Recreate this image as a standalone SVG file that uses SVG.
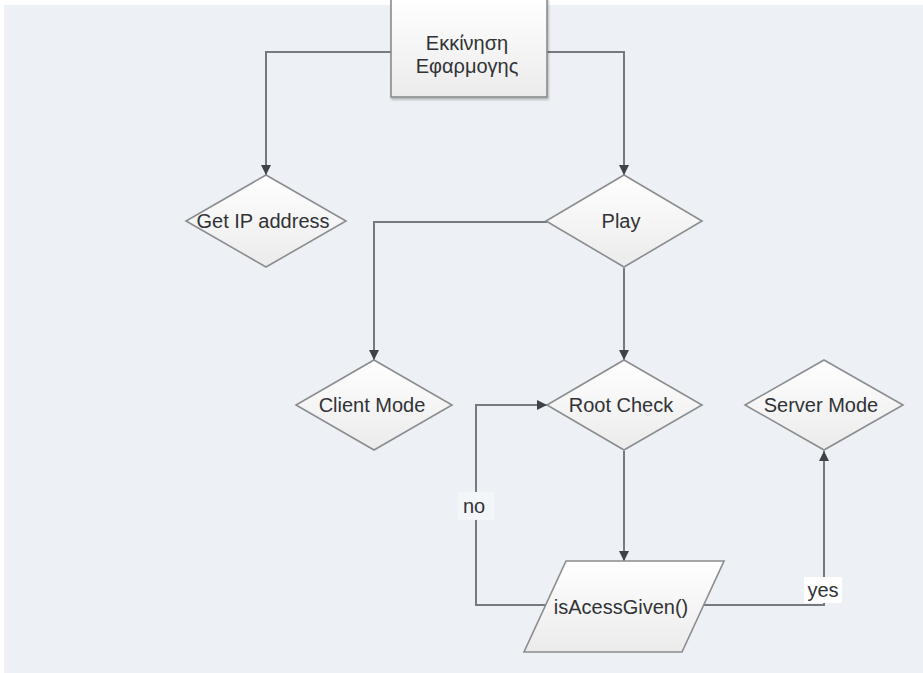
<svg xmlns="http://www.w3.org/2000/svg" width="923" height="673" viewBox="0 0 923 673">
  <defs>
    <linearGradient id="shapeFill" x1="0" y1="0" x2="0" y2="1">
      <stop offset="0" stop-color="#ffffff"/>
      <stop offset="1" stop-color="#ebebeb"/>
    </linearGradient>
    <filter id="shadow" x="-10%" y="-10%" width="130%" height="130%">
      <feDropShadow dx="1" dy="2" stdDeviation="1.2" flood-color="#000" flood-opacity="0.25"/>
    </filter>
    <marker id="arrow" viewBox="0 0 10 10" refX="10" refY="5" markerWidth="10" markerHeight="10" markerUnits="userSpaceOnUse" orient="auto">
      <path d="M0,0 L10,5 L0,10 z" fill="#3f4246"/>
    </marker>
  </defs>
  <style>
    .shape { fill: url(#shapeFill); stroke: #8a8c8f; stroke-width: 1.6; }
    .label { font-family: "Liberation Sans", Arial, "Noto Sans", sans-serif; font-size: 20px; fill: #313235; text-anchor: middle; dominant-baseline: central; }
    .edge { fill: none; stroke: #76797d; stroke-width: 2; }
    .tag { font-family: "Liberation Sans", Arial, sans-serif; font-size: 20px; fill: #313235; text-anchor: middle; dominant-baseline: central; }
  </style>

  <!-- canvas -->
  <rect x="0" y="0" width="923" height="673" fill="#ffffff"/>
  <rect x="4" y="5" width="919" height="668" fill="#edf1f5"/>

  <!-- connectors -->
  <g id="connectors">
    <polyline class="edge" points="391,52 266,52 266,175" marker-end="url(#arrow)"/>
    <polyline class="edge" points="547,52 624,52 624,175" marker-end="url(#arrow)"/>
    <polyline class="edge" points="547,222 374,222 374,360" marker-end="url(#arrow)"/>
    <polyline class="edge" points="624,268 624,360" marker-end="url(#arrow)"/>
    <polyline class="edge" points="624,451 624,561" marker-end="url(#arrow)"/>
    <polyline class="edge" points="545,605 476,605 476,405 547,405" marker-end="url(#arrow)"/>
    <polyline class="edge" points="703,605 824,605 824,451" marker-end="url(#arrow)"/>
    <g id="label-no">
      <rect x="458" y="492" width="36" height="28" fill="#f3f6f9"/>
      <text class="tag" x="474" y="506">no</text>
    </g>
    <g id="label-yes">
      <rect x="804" y="577" width="38" height="26" fill="#ffffff"/>
      <text class="tag" x="823" y="590">yes</text>
    </g>
  </g>

  <!-- nodes -->
  <g id="start">
    <rect class="shape" x="391" y="-2" width="156" height="99" filter="url(#shadow)"/>
    <text class="label" x="467" y="43">Εκκίνηση</text>
    <text class="label" x="467" y="66">Εφαρμογης</text>
  </g>

  <g id="get-ip">
    <polygon class="shape" points="266,175 346,221 266,267 186,221"/>
    <text class="label" x="263" y="221">Get IP address</text>
  </g>

  <g id="play">
    <polygon class="shape" points="624,175 702,221 624,267 546,221"/>
    <text class="label" x="621" y="221">Play</text>
  </g>

  <g id="client-mode">
    <polygon class="shape" points="374,360 452,405 374,450 296,405"/>
    <text class="label" x="372" y="405">Client Mode</text>
  </g>

  <g id="root-check">
    <polygon class="shape" points="624,360 702,405 624,450 547,405"/>
    <text class="label" x="621" y="405">Root Check</text>
  </g>

  <g id="server-mode">
    <polygon class="shape" points="824,360 903,405 824,450 745,405"/>
    <text class="label" x="821" y="405">Server Mode</text>
  </g>

  <g id="access-check">
    <polygon class="shape" points="566,561 724,561 682,652 524,652"/>
    <text class="label" x="621" y="607">isAcessGiven()</text>
  </g>
</svg>
